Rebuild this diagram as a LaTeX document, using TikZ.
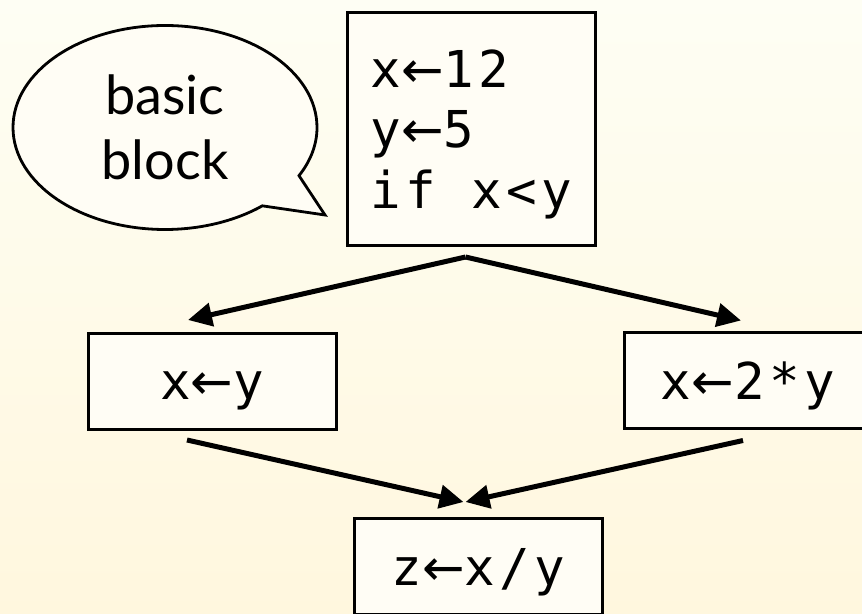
\documentclass[tikz,border=0pt]{standalone}
\usepackage{fontspec}
\setmainfont{Lato}
\setmonofont[LetterSpace=9]{DejaVu Sans Mono}
\newfontfamily\arrowfont{DejaVu Sans}
\usepackage{xcolor}
\usetikzlibrary{arrows.meta,shapes.callouts}
\definecolor{paperTop}{HTML}{FEFEF4}
\definecolor{paperBottom}{HTML}{FFF7DE}
\definecolor{blockFill}{HTML}{FFFDF5}
% assignment arrow, taken from the proportional face
\newcommand{\assign}{{\arrowfont ←}}
\tikzset{
  >=Latex,
  % code blocks of the flow graph
  codebox/.style={
    draw=black,
    line width=1.5pt,
    fill=blockFill,
    minimum width=124pt,
    minimum height=48pt,
    inner sep=0pt,
    text depth=0pt,
    font=\ttfamily\fontsize{25.4}{30.25}\selectfont
  },
  oneline/.style={
    text height=18.5pt
  },
  flow/.style={
    -{Triangle[length=12pt,width=11.5pt]},
    line width=2.5pt,
    draw=black
  },
  bubble/.style={
    ellipse callout,
    draw=black,
    line width=1.4pt,
    fill=blockFill,
    minimum width=152pt,
    minimum height=102pt,
    inner sep=0pt,
    callout pointer arc=22,
    align=center,
    font=\fontsize{27}{32.5}\selectfont
  }
}

\begin{document}
\begin{tikzpicture}[x=0.5pt,y=-0.5pt]

\useasboundingbox (0,0) rectangle (862,614);
\shade[top color=paperTop, bottom color=paperBottom] (0,0) rectangle (862,614);

% entry block, the two branches and the join
\node[codebox, minimum height=116.5pt, align=left] (entry) at (471.5,129)
{x\assign12\\y\assign5\\if x<y};
\node[codebox, oneline] (thenbr) at (212,381.5) {x\assign y};
\node[codebox, oneline] (elsebr) at (748,381) {x\assign2*y};
\node[codebox, oneline] (join) at (478.5,566.5) {z\assign x/y};

\node[bubble, callout absolute pointer={(325,215)}] (note) at (165,127.5)
{basic\\block};

\draw[flow] ([shift={(-6,10)}]entry.south) -- ([shift={(-24,-12)}]thenbr.north);
\draw[flow] ([shift={(-6,10)}]entry.south) -- ([shift={(-7,-11)}]elsebr.north);
\draw[flow] ([shift={(-25,9)}]thenbr.south) -- ([shift={(-15,-15)}]join.north);
\draw[flow] ([shift={(-5,10)}]elsebr.south) -- ([shift={(-13,-15)}]join.north);

\end{tikzpicture}
\end{document}
